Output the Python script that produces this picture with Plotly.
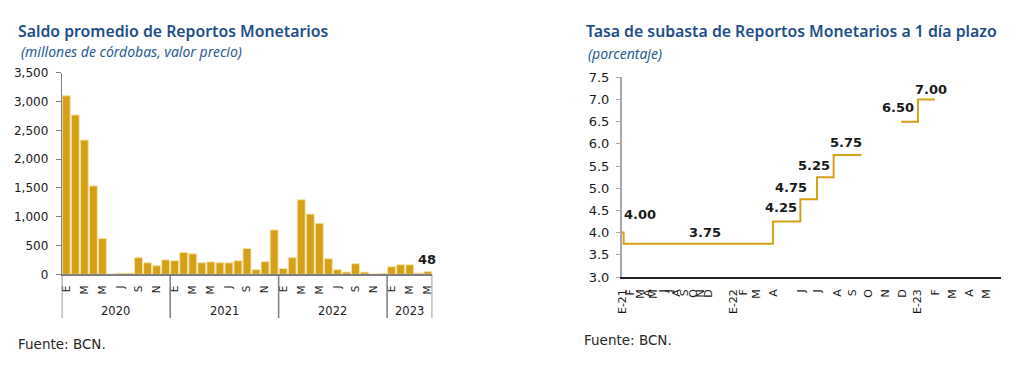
import plotly.graph_objects as go

# ---------------- data ----------------
anios = ["2020", "2021", "2022", "2023"]
meses_letra = ["E", "F", "M", "A", "M", "J", "J", "A", "S", "O", "N", "D"]
saldo_2020 = [3100, 2765, 2330, 1535, 620, 3, 20, 20, 290, 200, 150, 250]
saldo_2021 = [235, 380, 355, 200, 215, 200, 200, 235, 450, 80, 220, 770]
saldo_2022 = [100, 290, 1295, 1045, 885, 270, 80, 40, 185, 40, 2, 15]
saldo_2023 = [130, 165, 165, 20, 48]

tasa_etiquetas = ["E-21", "F", "M", "A", "M", "J", "J", "A", "S", "O", "N", "D",
                  "E-22", "F", "M", "A", "J", "J", "A", "S", "O", "N", "D",
                  "E-23", "F", "M", "A", "M"]
tasa_posiciones = [0.2, 2.3, 4.8, 6.6, 8.3, 10.7, 12.4, 14.2, 16.3, 18.5, 20.4, 22.4,
                   29.0, 31.4, 34.9, 39.2, 46.6, 50.6, 55.7, 59.6, 63.9, 68.2, 72.5,
                   76.4, 81.2, 85.5, 89.8, 94.4]
tasa_x = [0.0, 0.5, 39.1, 46.2, 50.5, 54.8, 62.0, None, 72.3, 76.6, 81.0]
tasa_y = [4.00, 3.75, 4.25, 4.75, 5.25, 5.75, 5.75, None, 6.50, 7.00, 7.00]

# ---------------- styles / layout helpers ----------------
W, H, OFF = 1024, 357, 8          # page body margin of 8px is compensated


def fx(px):
    return (px - OFF) / W


def fy(py):
    return 1 - (py - OFF) / H


GOLD = "#D4A017"
TITLE_BLUE = "#1F4E8A"
SUB_BLUE = "#2B5C93"
AXIS_GREY = "#7F7F7F"
TXT = "#1a1a1a"

saldo = saldo_2020 + saldo_2021 + saldo_2022 + saldo_2023
grupos = [saldo_2020, saldo_2021, saldo_2022, saldo_2023]
idx = list(range(len(saldo)))
mes_idx = [i % 12 for i in idx]

fig = go.Figure()
fig.add_trace(go.Bar(
    x=idx, y=saldo, xaxis="x", yaxis="y",
    marker=dict(color=GOLD, line=dict(color="#F4E3A6", width=1)),
    showlegend=False, hoverinfo="skip",
))
fig.add_trace(go.Scatter(
    x=tasa_x, y=tasa_y, xaxis="x2", yaxis="y2", mode="lines",
    line=dict(color=GOLD, width=2, shape="hv"), connectgaps=False,
    showlegend=False, hoverinfo="skip",
))

LX = [fx(61.7), fx(432.3)]
LY = [fy(274.3), fy(72.7)]
RX = [fx(621.7), fx(1000.7)]
RY = [fy(277), fy(77.3)]

tick_vals_l = [i for i in idx if mes_idx[i] % 2 == 0]
tick_text_l = [meses_letra[mes_idx[i]] for i in tick_vals_l]

fig.update_layout(
    width=W, height=H,
    margin=dict(l=0, r=0, t=0, b=0, pad=0, autoexpand=False),
    paper_bgcolor="white", plot_bgcolor="white",
    bargap=0.12,
    xaxis=dict(domain=LX, range=[-0.5, len(saldo) - 0.5], tickvals=tick_vals_l,
               ticktext=tick_text_l, tickangle=-90,
               tickfont=dict(family="DejaVu Sans", size=10.5, color=TXT),
               showline=True, linecolor=AXIS_GREY, linewidth=2, ticks="",
               showgrid=False, zeroline=False, ticklabelstandoff=5, anchor="y",
               automargin=False, fixedrange=True),
    yaxis=dict(domain=LY, range=[0, 3500], dtick=500, tickformat=",",
               tickfont=dict(family="DejaVu Sans", size=12, color=TXT),
               showline=True, linecolor=AXIS_GREY, linewidth=1, ticks="outside",
               ticklen=5, tickcolor=AXIS_GREY, ticklabelstandoff=5, showgrid=False,
               zeroline=False, anchor="x", automargin=False, fixedrange=True),
    xaxis2=dict(domain=RX, range=[0, 98], tickvals=tasa_posiciones, ticktext=tasa_etiquetas,
                tickangle=-90, tickfont=dict(family="DejaVu Sans", size=11, color=TXT),
                showline=True, linecolor="#222222", linewidth=1.5, ticks="",
                showgrid=False, zeroline=False, ticklabelstandoff=6, anchor="y2",
                automargin=False, fixedrange=True),
    yaxis2=dict(domain=RY, range=[3, 7.5], dtick=0.5, tickformat=".1f",
                tickfont=dict(family="DejaVu Sans", size=13, color=TXT),
                showline=True, linecolor="#A6A6A6", linewidth=1.5, ticks="outside",
                ticklen=4, tickcolor="#A6A6A6", ticklabelstandoff=4, showgrid=False,
                zeroline=False, anchor="x2", automargin=False, fixedrange=True),
)

# year separators and labels (left chart)
bordes = [-0.5]
for g in grupos:
    bordes.append(bordes[-1] + len(g))
shapes = []
for b in bordes:
    shapes.append(dict(type="line", xref="x", yref="paper", x0=b, x1=b,
                       y0=LY[0], y1=fy(318), line=dict(color=AXIS_GREY, width=1.5)))
fig.update_layout(shapes=shapes)

ann = []
for a, b0, b1 in zip(anios, bordes[:-1], bordes[1:]):
    ann.append(dict(x=(b0 + b1) / 2, y=fy(311), xref="x", yref="paper",
                    xanchor="center", yanchor="middle",
                    text=a, showarrow=False, font=dict(family="DejaVu Sans", size=11.5, color=TXT)))
# last bar data label
ann.append(dict(x=idx[-1], y=saldo[-1], xref="x", yref="y", text=f"{saldo[-1]:,}",
                xanchor="center", yanchor="middle",
                showarrow=False, yshift=12, xshift=-1,
                font=dict(family="DejaVu Sans", size=13, color=TXT, weight="bold")))

# rate labels
lbl_points = [i for i in range(len(tasa_x)) if tasa_x[i] is not None and
              (i + 1 < len(tasa_x)) and tasa_x[i + 1] is not None]
shifts = [(18, 18), (81, 11), (8, 14), (-9, 12), (-3, 12), (12, 12), (-3, 14), (13, 10)]
for (i, (dx, dy)) in zip(lbl_points, shifts):
    ann.append(dict(x=tasa_x[i], y=tasa_y[i], xref="x2", yref="y2", text=f"{tasa_y[i]:.2f}",
                    xanchor="center", yanchor="middle",
                    showarrow=False, xshift=dx, yshift=dy,
                    font=dict(family="DejaVu Sans", size=13, color=TXT, weight="bold")))

# titles
TF = dict(family="Noto Sans", size=15.8, color=TITLE_BLUE, weight=600)
SF = dict(family="Noto Sans", size=14, color=SUB_BLUE, style="italic")
FF = dict(family="DejaVu Sans", size=13.5, color="#262626")
ann += [
    dict(x=fx(16), y=fy(31), xref="paper", yref="paper", xanchor="left", yanchor="middle",
         text="Saldo promedio de Reportos Monetarios", showarrow=False, font=TF),
    dict(x=fx(19), y=fy(51), xref="paper", yref="paper", xanchor="left", yanchor="middle",
         text="(millones de córdobas, valor precio)", showarrow=False, font=SF),
    dict(x=fx(584), y=fy(31), xref="paper", yref="paper", xanchor="left", yanchor="middle",
         text="Tasa de subasta de Reportos Monetarios a 1 día plazo", showarrow=False, font=TF),
    dict(x=fx(586), y=fy(54), xref="paper", yref="paper", xanchor="left", yanchor="middle",
         text="(porcentaje)", showarrow=False, font=SF),
    dict(x=fx(16), y=fy(344), xref="paper", yref="paper", xanchor="left", yanchor="middle",
         text="Fuente: BCN.", showarrow=False, font=FF),
    dict(x=fx(582), y=fy(340), xref="paper", yref="paper", xanchor="left", yanchor="middle",
         text="Fuente: BCN.", showarrow=False, font=FF),
]
fig.update_layout(annotations=ann)

fig.write_html("out.html", config={"displayModeBar": False})
